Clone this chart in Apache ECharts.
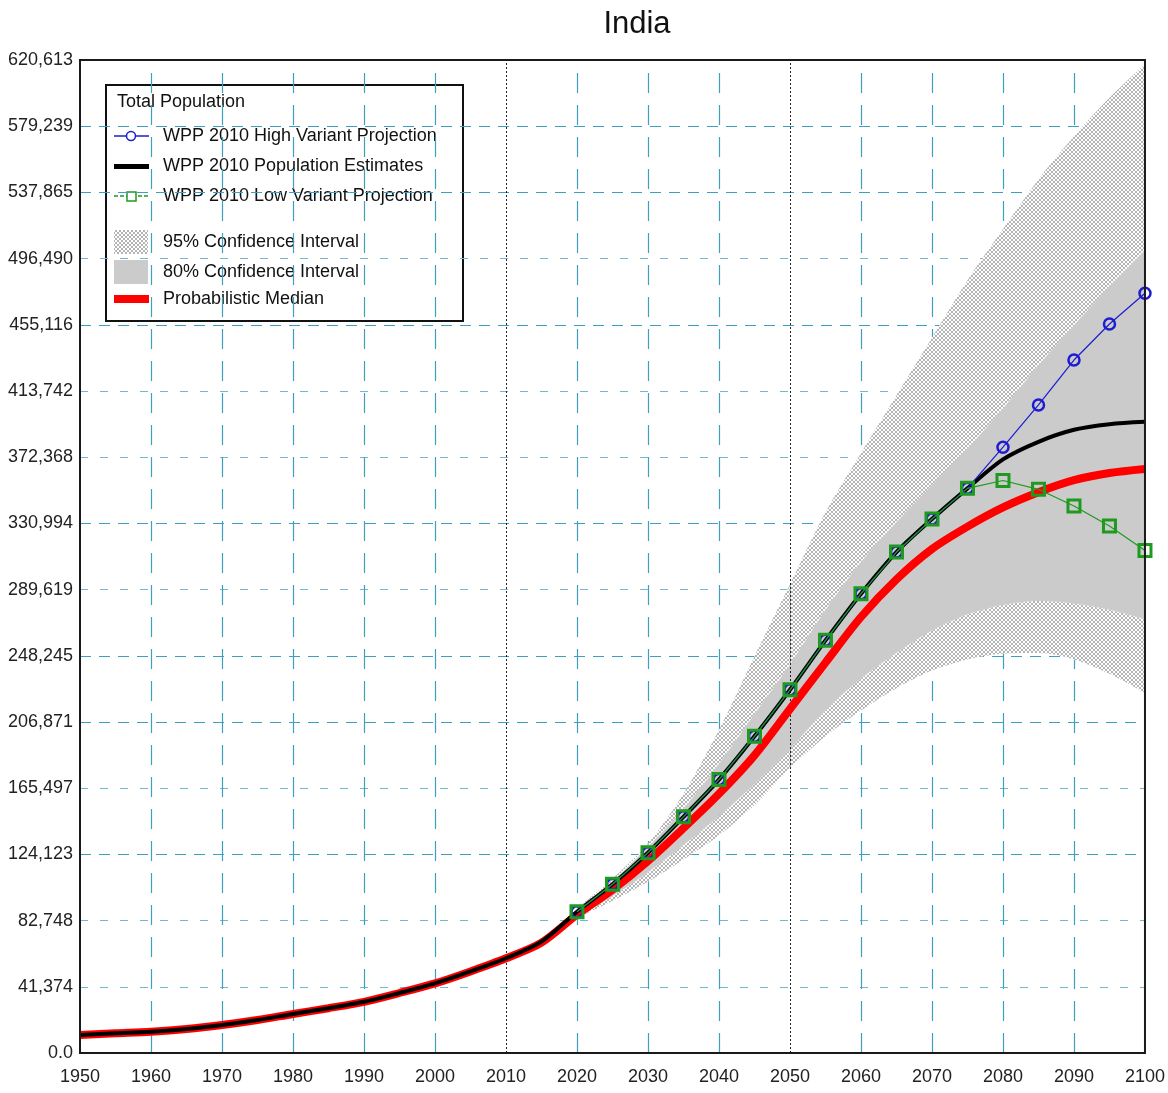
<!DOCTYPE html>
<html>
<head>
<meta charset="utf-8">
<script src="https://cdn.jsdelivr.net/npm/echarts@6/dist/echarts.min.js"></script>
<style>html,body{margin:0;padding:0;background:#fff}#chart{width:1168px;height:1093px}</style>
</head>
<body>
<div id="chart"></div>
<script>
// ---------- data ----------
const years = [1950,1955,1960,1965,1970,1975,1980,1985,1990,1995,2000,2005,2010,2015,2020,2025,2030,2035,2040,2045,2050,2055,2060,2065,2070,2075,2080,2085,2090,2095,2100];
const estimates = [11250,12300,13300,15000,17500,20600,24400,28000,32000,37500,43500,51000,59200,69600,88300,105500,125200,147600,170900,197900,227000,257900,287100,313100,333750,352900,371000,382000,389500,393000,394500];
const median = [11250,12300,13300,15000,17500,20600,24400,28000,32000,37500,43500,51000,59200,69000,86500,102000,120000,140500,162000,186000,215000,244000,272500,296000,315000,329000,341000,350500,358000,362500,365000];
const projYears = [2020,2025,2030,2035,2040,2045,2050,2055,2060,2065,2070,2075,2080,2085,2090,2095,2100];
const highVariant = [88300,105500,125200,147600,170900,197900,227000,257900,287100,313100,333750,352900,378600,405000,433100,455600,474800];
const lowVariant = [88300,105500,125200,147600,170900,197900,227000,257900,287100,313100,333750,352900,357800,352300,341900,329400,314000];
const bandYears = [2015,2020,2025,2030,2035,2040,2045,2050,2055,2060,2065,2070,2075,2080,2085,2090,2095,2100];
const lower95 = [69000,84000,95000,107000,121000,136000,155000,178000,198000,214000,228000,239000,246000,249500,250000,246000,237000,225000];
const lower80 = [69000,85000,98000,113000,130000,148000,168000,190000,214000,234000,250000,264000,274000,280000,282500,281000,277000,271000];
const upper80 = [69000,89500,107500,129000,153000,181000,212000,243000,277000,307000,332000,355000,378000,403000,430000,455000,479000,502000];
const upper95 = [69000,90000,109000,131000,162000,202000,248000,293000,338000,375000,411000,447000,483000,515000,546000,573000,597000,618000];
const yTickLabels = ['0.0','41,374','82,748','124,123','165,497','206,871','248,245','289,619','330,994','372,368','413,742','455,116','496,490','537,865','579,239','620,613'];
const yMax = 620613;
const xGridYears = [1960,1970,1980,1990,2000,2020,2030,2040,2060,2070,2080,2090];
const refYears = [2010,2050];
const legendTitle = 'Total Population';
const legendNames = ['WPP 2010 High Variant Projection','WPP 2010 Population Estimates','WPP 2010 Low Variant Projection','95% Confidence Interval','80% Confidence Interval','Probabilistic Median'];

// ---------- styles ----------
const SANS = "'Liberation Sans',Arial,sans-serif";
const TEAL = '#3f9fc0';
const TEAL_LIGHT = '#6fb9d2';
const GRAY80 = '#cbcbcb';
const hLineDashed = [false,false,false,true,false,true,true,false,true,false,false,true,false,true,true,false];

function makeHatch(){
  const c = document.createElement('canvas');
  c.width = 4; c.height = 4;
  const g = c.getContext('2d');
  g.fillStyle = '#ffffff'; g.fillRect(0,0,4,4);
  g.fillStyle = '#b4b4b4';
  for (let i=0;i<4;i++){ g.fillRect(i,i,1,1); g.fillRect(3-i,i,1,1); }
  return c;
}
const hatch = {image: makeHatch(), repeat: 'repeat'};

const yStep = yMax / 15;
const cats = years.map(String);
const onYears = (xs, ys) => years.map(y => { const i = xs.indexOf(y); return i < 0 ? '-' : ys[i]; });
const bandDiff = (a, b) => onYears(bandYears, a.map((v,i)=>v - b[i]));

// grid lines via markLine
const hLines = yTickLabels.map((_,i)=>i).filter(i=>i>0 && i<15).map(i=>({
  yAxis: i*yStep,
  lineStyle: hLineDashed[i]
    ? {color: TEAL, width: 1.2, type: [11,8]}
    : {color: TEAL_LIGHT, width: 1.2, type: [8,12]}
}));
const vLines = xGridYears.map(y=>({xAxis: String(y), lineStyle:{color: TEAL, width: 1.2, type:[20,12]}}));
const refLines = refYears.map(y=>({xAxis: String(y), lineStyle:{color:'#222', width:1, type:[2,2]}}));

const bandCommon = {
  type:'line', stack:'ci', smooth:0.3, symbol:'none', silent:true,
  lineStyle:{width:0, opacity:0}, z:2
};

const option = {
  animation:false,
  backgroundColor:'#ffffff',
  title:{
    text:'India', left:632, top:4, textAlign:'center',
    textStyle:{fontFamily:SANS, fontSize:31, fontWeight:'normal', color:'#111'}
  },
  grid:{left:80, right:23, top:60, bottom:40, show:true, z:10,
        backgroundColor:'transparent', borderColor:'#1a1a1a', borderWidth:2},
  xAxis:{
    type:'category', data:cats, boundaryGap:false,
    axisLine:{show:false}, axisTick:{show:false}, splitLine:{show:false},
    axisLabel:{fontFamily:SANS, fontSize:18, color:'#222', margin:15, interval:1}
  },
  yAxis:{
    type:'value', min:0, max:yMax, interval:yStep,
    axisLine:{show:false}, axisTick:{show:false}, splitLine:{show:false},
    axisLabel:{fontFamily:SANS, fontSize:18, color:'#222', margin:7,
      formatter:(v)=>yTickLabels[Math.round(v/yStep)]}
  },
  series:[
    {type:'line', data:[], silent:true, z:1,
     markLine:{silent:true, symbol:'none', z:1, label:{show:false}, emphasis:{disabled:true},
       data: hLines.concat(vLines)}},
    Object.assign({}, bandCommon, {name:'base', data: onYears(bandYears, lower95)}),
    Object.assign({}, bandCommon, {name:'95% Confidence Interval', data: bandDiff(lower80, lower95), areaStyle:{color:hatch, opacity:1}}),
    Object.assign({}, bandCommon, {name:'80% Confidence Interval', data: bandDiff(upper80, lower80), areaStyle:{color:GRAY80, opacity:1}}),
    Object.assign({}, bandCommon, {name:'95% Confidence Interval (upper)', data: bandDiff(upper95, upper80), areaStyle:{color:hatch, opacity:1}}),
    {type:'line', data:[], silent:true, z:3,
     markLine:{silent:true, symbol:'none', z:3, label:{show:false}, emphasis:{disabled:true}, data: refLines}},
    {name:'Probabilistic Median', type:'line', data: median, smooth:0.3, symbol:'none', z:4,
     lineStyle:{color:'#ff0000', width:8}},
    {name:'WPP 2010 Population Estimates', type:'line', data: estimates, smooth:0.3, symbol:'none', z:5,
     lineStyle:{color:'#000000', width:4}},
    {name:'WPP 2010 High Variant Projection', type:'line', data: onYears(projYears, highVariant), z:6,
     symbol:'circle', symbolSize:11,
     lineStyle:{color:'#1c1cd0', width:1.2},
     itemStyle:{color:'rgba(0,0,0,0)', borderColor:'#1c1cd0', borderWidth:2.5}},
    {name:'WPP 2010 Low Variant Projection', type:'line', data: onYears(projYears, lowVariant), z:7,
     symbol:'rect', symbolSize:12,
     lineStyle:{color:'#1e9a1e', width:1.2},
     itemStyle:{color:'rgba(0,0,0,0)', borderColor:'#1e9a1e', borderWidth:3}}
  ],
  graphic:{elements:[
    {type:'group', left:105, top:84, z:20, children:[
      {type:'rect', shape:{x:0,y:0,width:357,height:236}, style:{fill:'#fff', stroke:'#111', lineWidth:2}},
      {type:'text', x:11, y:17, style:{text:legendTitle, font:'18px '+SANS, fill:'#111', textVerticalAlign:'middle'}},
      {type:'line', shape:{x1:8,y1:51,x2:43,y2:51}, style:{stroke:'#1c1cd0', lineWidth:1.5}},
      {type:'circle', shape:{cx:25,cy:51,r:4.5}, style:{fill:'#fff', stroke:'#1c1cd0', lineWidth:1.5}},
      {type:'text', x:57, y:51, style:{text:legendNames[0], font:'18px '+SANS, fill:'#111', textVerticalAlign:'middle'}},
      {type:'rect', shape:{x:8,y:79,width:35,height:5}, style:{fill:'#000'}},
      {type:'text', x:57, y:81, style:{text:legendNames[1], font:'18px '+SANS, fill:'#111', textVerticalAlign:'middle'}},
      {type:'line', shape:{x1:8,y1:111,x2:43,y2:111}, style:{stroke:'#1e9a1e', lineWidth:1.5, lineDash:[4,2]}},
      {type:'rect', shape:{x:21,y:107,width:9,height:9}, style:{fill:'#fff', stroke:'#1e9a1e', lineWidth:1.5}},
      {type:'text', x:57, y:111, style:{text:legendNames[2], font:'18px '+SANS, fill:'#111', textVerticalAlign:'middle'}},
      {type:'rect', shape:{x:8,y:145,width:34,height:24}, style:{fill:hatch}},
      {type:'text', x:57, y:157, style:{text:legendNames[3], font:'18px '+SANS, fill:'#111', textVerticalAlign:'middle'}},
      {type:'rect', shape:{x:8,y:175,width:34,height:24}, style:{fill:GRAY80}},
      {type:'text', x:57, y:187, style:{text:legendNames[4], font:'18px '+SANS, fill:'#111', textVerticalAlign:'middle'}},
      {type:'rect', shape:{x:8,y:210,width:35,height:8}, style:{fill:'#ff0000'}},
      {type:'text', x:57, y:214, style:{text:legendNames[5], font:'18px '+SANS, fill:'#111', textVerticalAlign:'middle'}}
    ]}
  ]}
};
const chart = echarts.init(document.getElementById('chart'), null, {renderer:'canvas'});
chart.setOption(option);
</script>
</body>
</html>
